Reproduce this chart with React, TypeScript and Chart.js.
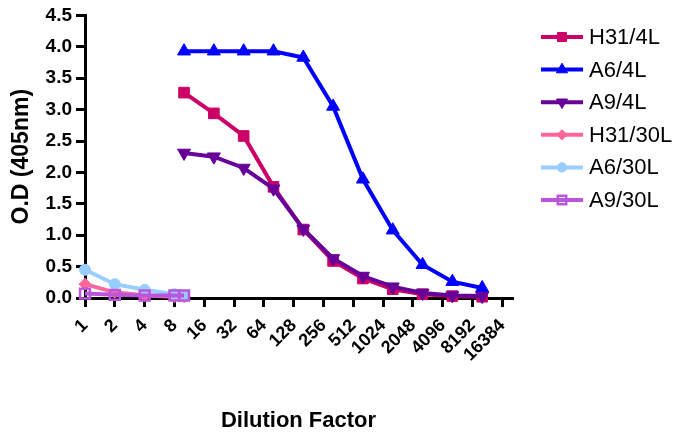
import React, { useEffect, useRef } from "react";
import { Chart, registerables } from "chart.js";
import { drawPoint } from "chart.js/helpers";

Chart.register(...registerables);

// ---- data ----
const xTickValues = [1, 2, 4, 8, 16, 32, 64, 128, 256, 512, 1024, 2048, 4096, 8192, 16384];
const dilution4L = [10, 20, 40, 80, 160, 320, 640, 1280, 2560, 5120, 10240];
const dilution30L = [1, 2, 4, 8, 10];

const h31_4L = [3.27, 2.94, 2.58, 1.77, 1.09, 0.59, 0.31, 0.14, 0.06, 0.03, 0.02];
const a6_4L = [3.93, 3.93, 3.93, 3.93, 3.83, 3.05, 1.89, 1.08, 0.53, 0.26, 0.16];
const a9_4L = [2.31, 2.25, 2.07, 1.74, 1.1, 0.63, 0.35, 0.18, 0.08, 0.04, 0.03];
const h31_30L = [0.22, 0.09, 0.04, 0.02, 0.02];
const a6_30L = [0.45, 0.22, 0.13, 0.06, 0.04];
const a9_30L = [0.07, 0.05, 0.04, 0.04, 0.04];

const seriesNames = ["H31/4L", "A6/4L", "A9/4L", "H31/30L", "A6/30L", "A9/30L"];
const yTitle = "O.D (405nm)";
const xTitle = "Dilution Factor";

const FONT = '"Liberation Sans", Arial, Helvetica, sans-serif';

function pts(xs: number[], ys: number[]) {
  return xs.map((x, i) => ({ x, y: ys[i] }));
}

const legendPlugin = {
  id: "customLegend",
  afterDraw(chart: any) {
    const ctx = chart.ctx as CanvasRenderingContext2D;
    const area = chart.chartArea;
    const x0 = area.right + 29;
    const x1 = area.right + 71;
    const tx = area.right + 77;
    const y0 = 37;
    const dy = 32.6;
    chart.data.datasets.forEach((ds: any, i: number) => {
      const y = y0 + i * dy;
      ctx.save();
      ctx.strokeStyle = ds.borderColor;
      ctx.lineWidth = 4;
      ctx.beginPath();
      ctx.moveTo(x0, y);
      ctx.lineTo(x1, y);
      ctx.stroke();
      ctx.fillStyle = ds.pointBackgroundColor;
      ctx.strokeStyle = ds.pointBorderColor;
      ctx.lineWidth = ds.pointBorderWidth;
      drawPoint(
        ctx,
        {
          pointStyle: ds.pointStyle,
          rotation: ds.pointRotation || 0,
          radius: ds.pointRadius * 0.85,
          borderWidth: ds.pointBorderWidth,
        } as any,
        (x0 + x1) / 2,
        y
      );
      ctx.fillStyle = "#000";
      ctx.font = `22px ${FONT}`;
      ctx.textBaseline = "middle";
      ctx.textAlign = "left";
      ctx.fillText(seriesNames[i], tx, y + 1);
      ctx.restore();
    });
  },
};

function makeDataset(
  label: string,
  data: { x: number; y: number }[],
  color: string,
  pointStyle: string,
  radius: number,
  opts: any = {}
) {
  return {
    label,
    data,
    borderColor: color,
    backgroundColor: color,
    borderWidth: 4,
    pointStyle,
    pointRadius: radius,
    pointHoverRadius: radius,
    pointBackgroundColor: color,
    pointBorderColor: color,
    pointBorderWidth: 1,
    pointRotation: 0,
    tension: 0,
    clip: false as any,
    ...opts,
  };
}

export default function App() {
  const ref = useRef<HTMLCanvasElement | null>(null);

  useEffect(() => {
    if (!ref.current) return;
    const datasets = [
      makeDataset(seriesNames[0], pts(dilution4L, h31_4L), "#CC0066", "rect", 7.5, { order: 6 }),
      makeDataset(seriesNames[1], pts(dilution4L, a6_4L), "#0000FF", "triangle", 7.5, { order: 5 }),
      makeDataset(seriesNames[2], pts(dilution4L, a9_4L), "#660099", "triangle", 7.5, {
        order: 4,
        pointRotation: 180,
      }),
      makeDataset(seriesNames[3], pts(dilution30L, h31_30L), "#FF6699", "rectRot", 6, { order: 3 }),
      makeDataset(seriesNames[4], pts(dilution30L, a6_30L), "#99CCFF", "circle", 5.5, { order: 2 }),
      makeDataset(seriesNames[5], pts(dilution30L, a9_30L), "#BB55DD", "rect", 7, {
        order: 1,
        pointBackgroundColor: "rgba(0,0,0,0)",
        pointBorderWidth: 2.5,
      }),
    ];

    const chart = new Chart(ref.current, {
      type: "line",
      data: { datasets: datasets as any },
      plugins: [legendPlugin],
      options: {
        responsive: false,
        animation: false,
        devicePixelRatio: 1,
        layout: { padding: { top: 15, right: 164, bottom: 0, left: 0 } },
        plugins: {
          legend: { display: false },
          tooltip: { enabled: false },
        },
        scales: {
          x: {
            type: "logarithmic",
            min: 1,
            max: 20480,
            afterBuildTicks: (scale: any) => {
              scale.ticks = xTickValues.map((v) => ({ value: v }));
            },
            afterFit: (scale: any) => {
              scale.height = 137;
            },
            ticks: {
              autoSkip: false,
              minRotation: 45,
              maxRotation: 45,
              padding: 8,
              color: "#000",
              font: { family: FONT, size: 18, weight: "bold" },
              callback: (value: any) => String(value),
            },
            grid: {
              drawOnChartArea: false,
              drawTicks: true,
              tickLength: 9,
              tickWidth: 3,
              tickColor: "#000",
              color: "#000",
              lineWidth: 3,
            },
            border: { display: true, color: "#000", width: 3 },
            title: {
              display: true,
              text: xTitle,
              color: "#000",
              font: { family: FONT, size: 22, weight: "bold" },
              padding: { top: 0, bottom: 1 },
            },
          },
          y: {
            type: "linear",
            min: 0,
            max: 4.5,
            afterFit: (scale: any) => {
              scale.width = 85;
            },
            ticks: {
              stepSize: 0.5,
              padding: 4,
              color: "#000",
              font: { family: FONT, size: 19, weight: "bold" },
              callback: (value: any) => Number(value).toFixed(1),
            },
            grid: {
              drawOnChartArea: false,
              drawTicks: true,
              tickLength: 9,
              tickWidth: 3,
              tickColor: "#000",
              color: "#000",
              lineWidth: 3,
            },
            border: { display: true, color: "#000", width: 3 },
            title: {
              display: true,
              text: yTitle,
              color: "#000",
              font: { family: FONT, size: 23, weight: "bold" },
              padding: { top: 8, bottom: 0 },
            },
          },
        },
      } as any,
    });
    return () => chart.destroy();
  }, []);

  return (
    <div style={{ position: "fixed", left: 0, top: 0, width: 676, height: 435, background: "#fff" }}>
      <canvas ref={ref} width={676} height={435} style={{ width: 676, height: 435, display: "block" }} />
    </div>
  );
}
